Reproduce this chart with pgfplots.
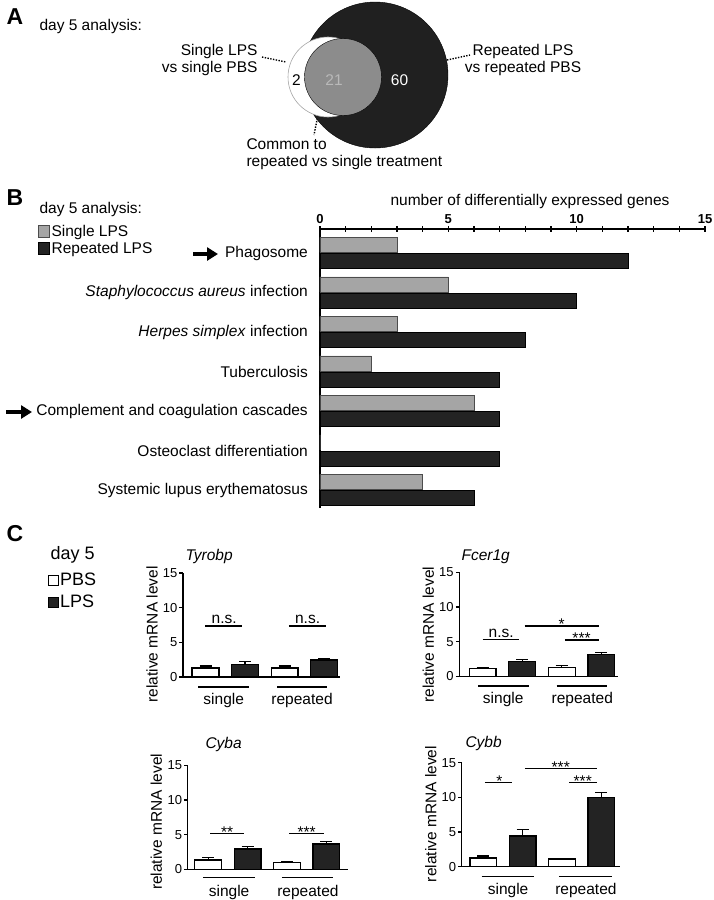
\documentclass[border=0pt]{standalone}
\usepackage{fontspec}
\setmainfont{Liberation Sans}
\usepackage{pgfplots}
\pgfplotsset{compat=1.18}
\usetikzlibrary{arrows.meta}
\definecolor{vblack}{RGB}{32,32,32}
\definecolor{vgray}{RGB}{140,140,140}
\definecolor{tgray}{RGB}{185,185,185}
\definecolor{bgray}{RGB}{165,165,165}
\definecolor{bblack}{RGB}{35,35,35}
\newcommand\fs{\fontsize{15.5}{18}\selectfont}
\newcommand\fst{\fontsize{13}{15}\selectfont}
\newcommand\fsp{\fontsize{23}{26}\selectfont\bfseries}
\newcommand\fsl{\fontsize{18}{20}\selectfont}
\pgfplotsset{
  cplot/.style={
    scale only axis, height=104pt, ymin=0, ymax=15,
    axis x line*=bottom, axis y line*=left,
    axis line style={line width=1.3pt, -},
    ytick={0,5,10,15}, tick align=outside, major tick length=3.5pt,
    y tick style={line width=1.1pt, black},
    x tick style={draw=none},
    yticklabel style={font=\fst, inner sep=1pt, xshift=-1pt},
    xticklabel style={font=\fs, anchor=base, yshift=-24pt},
    xticklabels={single,repeated},
    ylabel={relative mRNA level},
    label style={font=\fs},
    clip=false,
    /pgf/number format/assume math mode=true,
  },
  pbs/.style={ybar, bar width=0.68, bar shift=0pt, fill=white, draw=black, line width=1.3pt,
    /pgfplots/error bars/y dir=plus, /pgfplots/error bars/y explicit,
    /pgfplots/error bars/error bar style={line width=1.3pt, black},
    /pgfplots/error bars/error mark options={rotate=90, line width=1.3pt, mark size=6pt, black}},
  lps/.style={ybar, bar width=0.68, bar shift=0pt, fill=bblack, draw=black, line width=1.3pt,
    /pgfplots/error bars/y dir=plus, /pgfplots/error bars/y explicit,
    /pgfplots/error bars/error bar style={line width=1.3pt, black},
    /pgfplots/error bars/error mark options={rotate=90, line width=1.3pt, mark size=6pt, black}},
  sig/.style={black, line width=1.3pt, mark=none, forget plot},
  canvas/.style={at={(0pt,0pt)}, anchor=north west, scale only axis, width=713pt, height=900pt,
    xmin=0, xmax=713, ymin=0, ymax=900, y dir=reverse, hide axis, clip=false},
}
\begin{document}
\begin{tikzpicture}[font=\fs]
\path[use as bounding box] (0,0) rectangle (713pt,-900pt);

% ---------- canvas axis: panel A and free text ----------
\begin{axis}[canvas]
  \addplot[only marks, mark=*, mark size=73pt, mark options={fill=vblack, draw=none}] coordinates {(375,75)};
  \addplot[only marks, mark=*, mark size=40pt, mark options={fill=white, draw=gray!70, line width=0.6pt}] coordinates {(328,77)};
  \addplot[only marks, mark=*, mark size=38.5pt, mark options={fill=vgray, draw=none}] coordinates {(343,77)};
  \addplot[black, line width=1.4pt, dash pattern=on 1.4pt off 1.4pt, mark=none] coordinates {(262,57) (286,62)};
  \addplot[black, line width=1.4pt, dash pattern=on 1.4pt off 1.4pt, mark=none] coordinates {(447,60) (470,55)};
  \addplot[black, line width=1.4pt, dash pattern=on 1.4pt off 1.4pt, mark=none] coordinates {(319,110) (314,135)};
  \node[font=\fsp, anchor=base west] at (3,24) {A};
  \node[font=\fsp, anchor=base west] at (3,205) {B};
  \node[font=\fsp, anchor=base west] at (3,541) {C};
  \node[anchor=base west] at (36,30) {day 5 analysis:};
  \node[anchor=base east] at (261,55) {Single LPS};
  \node[anchor=base east] at (261,72) {vs single PBS};
  \node[anchor=base] at (523,55) {Repeated LPS};
  \node[anchor=base] at (523,72) {vs repeated PBS};
  \node[anchor=base west] at (243,149) {Common to};
  \node[anchor=base west] at (243,166) {repeated vs single treatment};
  % panel B free text
  \node[anchor=base west] at (36,213) {day 5 analysis:};
  \node[anchor=base] at (530,205) {number of differentially expressed genes};
  \draw[line width=3.2pt, -{Triangle[length=11pt,width=13pt]}] (axis cs:193,254) -- (axis cs:218,254);
  \draw[line width=3.2pt, -{Triangle[length=11pt,width=13pt]}] (axis cs:6,412) -- (axis cs:32,412);
  % panel C free text
  \node[font=\fsl, anchor=base west] at (47,559) {day 5};
  \node[font=\fs\itshape, anchor=base west] at (182,560) {Tyrobp};
  \node[font=\fs\itshape, anchor=base west] at (458,560) {Fcer1g};
  \node[font=\fs\itshape, anchor=base west] at (202,748) {Cyba};
  \node[font=\fs\itshape, anchor=base west] at (462,747) {Cybb};
\end{axis}
% ---------- canvas axis: Venn counts on top ----------
\begin{axis}[canvas]
  \node[anchor=base, text=black] at (296.5,85) {2};
  \node[anchor=base, text=tgray] at (334,85) {21};
  \node[anchor=base, text=white] at (399.5,85) {60};
\end{axis}

% ---------- panel B ----------
\begin{axis}[at={(320pt,-508pt)}, anchor=south west, scale only axis, width=385pt, height=279pt,
  xmin=0, xmax=15, ymin=-6.456, ymax=0.608,
  axis x line*=top, axis y line*=left,
  axis line style={line width=1.3pt, -},
  xtick={0,5,10,15}, xticklabels={0,5,10,15},
  minor xtick={1,2,3,4,6,7,8,9,11,12,13,14},
  tick align=center, major tick length=6pt, minor tick length=6pt,
  x tick style={line width=1.3pt, black},
  minor x tick style={line width=1.3pt, black},
  xticklabel style={font=\fontsize{13}{15}\selectfont\bfseries, inner sep=2pt},
  ytick={0,-1,-2,-3,-4,-5,-6},
  yticklabels={Phagosome, {\textit{Staphylococcus aureus} infection}, {\textit{Herpes simplex} infection}, Tuberculosis, Complement and coagulation cascades, Osteoclast differentiation, Systemic lupus erythematosus},
  y tick style={draw=none},
  yticklabel style={font=\fs, inner sep=0pt, xshift=-9pt},
  clip=false,
  legend style={at={(axis description cs:-0.732,1.02)}, anchor=north west, draw=none, fill=none,
    font=\fs, inner sep=0pt, row sep=1.5pt, cells={anchor=west}, nodes={inner sep=1.5pt}},
]
\addplot[xbar, bar width=0.38, bar shift=0pt, fill=bgray, draw=black!70, line width=0.7pt,
  legend image code/.code={\draw[fill=bgray, draw=black!70, line width=0.7pt] (0pt,-6pt) rectangle (11pt,6pt);}]
  coordinates {(3,0.205) (5,-0.795) (3,-1.795) (2,-2.795) (6,-3.795) (0,-4.795) (4,-5.795)};
\addlegendentry{Single LPS}
\addplot[xbar, bar width=0.38, bar shift=0pt, fill=bblack, draw=black, line width=0.7pt,
  legend image code/.code={\draw[fill=bblack, draw=black, line width=0.7pt] (0pt,-6pt) rectangle (11pt,6pt);}]
  coordinates {(12,-0.205) (10,-1.205) (8,-2.205) (7,-3.205) (7,-4.205) (7,-5.205) (6,-6.205)};
\addlegendentry{Repeated LPS}
\end{axis}

% ---------- panel C: Tyrobp ----------
\begin{axis}[cplot, at={(183pt,-677pt)}, anchor=south west, width=157pt,
  xmin=0.43, xmax=4.4, xtick={1.46,3.44},
  ylabel style={at={(axis description cs:-0.197,0.41)}, anchor=center},
  legend style={at={(axis description cs:-0.862,1.01)}, anchor=north west, draw=none, fill=none,
    font=\fsl, inner sep=0pt, row sep=6pt, cells={anchor=west}, nodes={inner sep=1pt}},
]
\addplot[pbs, legend image code/.code={\draw[black, line width=1.2pt, fill=white] (0pt,-5pt) rectangle (10pt,5pt);}]
  coordinates {(1,1.3) +- (0,0.3) (3,1.3) +- (0,0.3)};
\addlegendentry{PBS}
\addplot[lps, legend image code/.code={\draw[black, line width=1.2pt, fill=bblack] (0pt,-5pt) rectangle (10pt,5pt);}]
  coordinates {(2,1.85) +- (0,0.35) (4,2.45) +- (0,0.17)};
\addlegendentry{LPS}
\addplot[sig] coordinates {(0.99,7.36) (1.92,7.36)};
\addplot[sig] coordinates {(3.11,7.36) (4.05,7.36)};
\addplot[sig] coordinates {(0.81,-1.44) (2.1,-1.44)};
\addplot[sig] coordinates {(2.81,-1.44) (4.08,-1.44)};
\node[anchor=base] at (axis cs:1.47,7.66) {n.s.};
\node[anchor=base] at (axis cs:3.58,7.66) {n.s.};
\end{axis}

% ---------- panel C: Fcer1g ----------
\begin{axis}[cplot, at={(459.3pt,-676.3pt)}, anchor=south west, width=159pt,
  xmin=0.41, xmax=4.43, xtick={1.52,3.52},
  ylabel style={at={(axis description cs:-0.195,0.40)}, anchor=center},
]
\addplot[pbs] coordinates {(1,1.15) +- (0,0.15) (3,1.25) +- (0,0.28)};
\addplot[lps] coordinates {(2,2.1) +- (0,0.32) (4,3.17) +- (0,0.23)};
\addplot[sig] coordinates {(1.0,5.34) (1.93,5.34)};
\addplot[sig] coordinates {(2.06,7.26) (3.93,7.26)};
\addplot[sig] coordinates {(3.08,5.24) (3.93,5.24)};
\addplot[sig] coordinates {(0.89,-1.4) (2.18,-1.4)};
\addplot[sig] coordinates {(2.87,-1.4) (4.15,-1.4)};
\node[anchor=base] at (axis cs:1.47,5.64) {n.s.};
\node[anchor=base] at (axis cs:3.0,6.71) {*};
\node[anchor=base] at (axis cs:3.5,4.69) {***};
\end{axis}

% ---------- panel C: Cyba ----------
\begin{axis}[cplot, at={(187.7pt,-869.3pt)}, anchor=south west, width=160.4pt,
  xmin=0.48, xmax=4.55, xtick={1.53,3.53},
  ylabel style={at={(axis description cs:-0.195,0.456)}, anchor=center},
]
\addplot[pbs] coordinates {(1,1.34) +- (0,0.39) (3,1.0) +- (0,0.1)};
\addplot[lps] coordinates {(2,2.92) +- (0,0.33) (4,3.64) +- (0,0.33)};
\addplot[sig] coordinates {(1.05,5.18) (1.92,5.18)};
\addplot[sig] coordinates {(3.06,5.18) (3.93,5.18)};
\addplot[sig] coordinates {(0.88,-1.15) (2.18,-1.15)};
\addplot[sig] coordinates {(2.87,-1.15) (4.16,-1.15)};
\node[anchor=base] at (axis cs:1.48,4.63) {**};
\node[anchor=base] at (axis cs:3.5,4.63) {***};
\end{axis}

% ---------- panel C: Cybb ----------
\begin{axis}[cplot, at={(461.7pt,-866.7pt)}, anchor=south west, width=158.4pt,
  xmin=0.45, xmax=4.48, xtick={1.63,3.61},
  ylabel style={at={(axis description cs:-0.195,0.507)}, anchor=center},
]
\addplot[pbs] coordinates {(1,1.25) +- (0,0.3) (3,1.1) +- (0,0.12)};
\addplot[lps] coordinates {(2,4.43) +- (0,0.95) (4,10.0) +- (0,0.73)};
\addplot[sig] coordinates {(1.04,12.12) (1.72,12.12)};
\addplot[sig] coordinates {(2.06,14.2) (3.88,14.2)};
\addplot[sig] coordinates {(3.19,12.12) (3.88,12.12)};
\addplot[sig] coordinates {(0.96,-1.44) (2.29,-1.44)};
\addplot[sig] coordinates {(2.92,-1.44) (4.28,-1.44)};
\node[anchor=base] at (axis cs:1.41,11.57) {*};
\node[anchor=base] at (axis cs:2.97,13.65) {***};
\node[anchor=base] at (axis cs:3.53,11.57) {***};
\end{axis}
\end{tikzpicture}
\end{document}
